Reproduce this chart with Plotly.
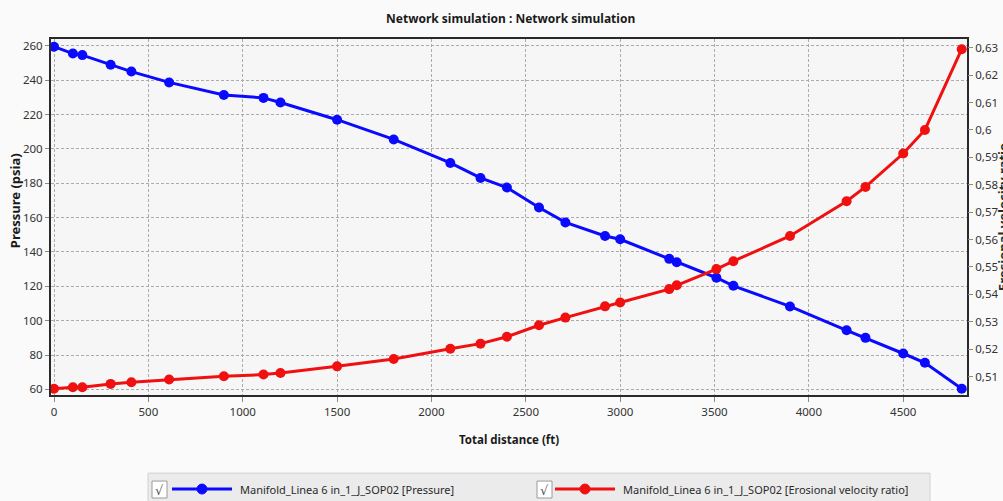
import plotly.graph_objects as go

# Distance along the line (ft)
distance_ft = [0, 100, 150, 300, 410, 610, 900, 1110, 1200, 1500, 1800, 2100, 2260, 2400,
               2570, 2710, 2920, 3000, 3260, 3300, 3510, 3600, 3900, 4200, 4300, 4500, 4615, 4810]
# Pressure profile (psia)
pressure_psia = [259.5, 255.5, 254.6, 249.0, 245.0, 238.7, 231.4, 229.7, 227.0, 217.0, 205.5,
                 191.8, 183.1, 177.5, 165.9, 157.2, 149.3, 147.4, 136.0, 134.0, 125.0, 120.3,
                 108.3, 94.4, 90.0, 80.9, 75.5, 60.4]
# Erosional velocity ratio (-)
erosional_ratio = [0.5055, 0.5061, 0.5061, 0.5073, 0.5079, 0.5089, 0.5101, 0.5107, 0.5113,
                   0.5137, 0.5164, 0.5201, 0.5220, 0.5245, 0.5287, 0.5315, 0.5356, 0.5370,
                   0.5419, 0.5433, 0.5492, 0.5521, 0.5613, 0.5740, 0.5792, 0.5914, 0.6000,
                   0.6295]

x_ticks = [0, 500, 1000, 1500, 2000, 2500, 3000, 3500, 4000, 4500]
left_ticks = [60, 80, 100, 120, 140, 160, 180, 200, 220, 240, 260]
right_ticks = [0.51, 0.52, 0.53, 0.54, 0.55, 0.56, 0.57, 0.58, 0.59, 0.60, 0.61, 0.62, 0.63]
right_tick_text = ["0,51", "0,52", "0,53", "0,54", "0,55", "0,56", "0,57", "0,58", "0,59",
                   "0,6", "0,61", "0,62", "0,63"]

series_names = ["Manifold_Linea 6 in_1_J_SOP02 [Pressure]",
                "Manifold_Linea 6 in_1_J_SOP02 [Erosional velocity ratio]"]
series_colors = ["#0a0aff", "#f01010"]

W, H = 1003, 501
L, R, T, B = 51, 967, 38, 396
FONT = "Noto Sans"


# the paper spans the whole page, so pixel positions map straight onto it
def px(x):
    return x / W


def py(y):
    return 1 - y / H


fig = go.Figure()
fig.add_trace(go.Scatter(
    x=distance_ft, y=pressure_psia, name=series_names[0], mode="lines+markers",
    line=dict(color=series_colors[0], width=3),
    marker=dict(color=series_colors[0], size=10), yaxis="y", showlegend=False))
fig.add_trace(go.Scatter(
    x=distance_ft, y=erosional_ratio, name=series_names[1], mode="lines+markers",
    line=dict(color=series_colors[1], width=3),
    marker=dict(color=series_colors[1], size=10), yaxis="y2", showlegend=False))

grid = dict(showgrid=True, gridcolor="#ababab", griddash="3px,2px", gridwidth=1)
tickfont = dict(family=FONT, size=11.5, color="#333333")

fig.update_layout(
    width=W, height=H,
    margin=dict(l=0, r=0, t=0, b=0, pad=0),
    paper_bgcolor="#fafafa", plot_bgcolor="#f6f6f6",
    xaxis=dict(domain=[px(L), px(R)], range=[-16, 4838], tickvals=x_ticks, ticks="outside",
               ticklen=5, tickcolor="#8a8a8a", tickfont=tickfont, zeroline=False,
               showline=True, linecolor="#2a2a2a", linewidth=2, mirror=True, **grid),
    yaxis=dict(domain=[py(B), py(T)], range=[56.5, 264.06], tickvals=left_ticks,
               ticks="outside", ticklen=4, tickcolor="#8a8a8a", tickfont=tickfont,
               zeroline=False, showline=True, linecolor="#2a2a2a", linewidth=2, mirror=True,
               **grid),
    yaxis2=dict(range=[0.50309, 0.63327], overlaying="y", side="right",
                tickvals=right_ticks, ticktext=right_tick_text, ticks="outside", ticklen=5,
                tickcolor="#8a8a8a", tickfont=tickfont, showgrid=False, zeroline=False),
)

annotations = [
    dict(text="<b>Network simulation : Network simulation</b>", x=px(510), y=py(18),
         font=dict(family=FONT, size=12, color="#1a1a1a")),
    dict(text="<b>Total distance (ft)</b>", x=px(509), y=py(440),
         font=dict(family=FONT, size=11.5, color="#1a1a1a")),
    dict(text="<b>Pressure (psia)</b>", x=px(15), y=py(201), textangle=-90,
         font=dict(family=FONT, size=13, color="#1a1a1a")),
    # right-hand axis title, running off the page edge
    dict(text="<b>Erosional velocity ratio</b>", x=px(1003), y=py(217), textangle=-90,
         font=dict(family=FONT, size=13, color="#2a2a20")),
]
for a in annotations:
    a.update(xref="paper", yref="paper", showarrow=False, xanchor="center", yanchor="middle")

shapes = [
    # legend panel
    dict(type="rect", x0=px(148), x1=px(930), y0=py(474), y1=py(503),
         fillcolor="#ebebeb", line=dict(color="#d2d2d2", width=1), layer="above"),
]

# legend entries: checkbox, line sample with marker, label
legend_items = [
    dict(box=152, line0=172, line1=232, text_x=238),
    dict(box=537, line0=555, line1=615, text_x=621),
]
for item, name, color in zip(legend_items, series_names, series_colors):
    yc = 490
    shapes.append(dict(type="rect", x0=px(item["box"]), x1=px(item["box"] + 15),
                       y0=py(482), y1=py(499), fillcolor="#ffffff",
                       line=dict(color="#9a9a9a", width=1), layer="above"))
    shapes.append(dict(type="line", x0=px(item["line0"]), x1=px(item["line1"]),
                       y0=py(yc), y1=py(yc), line=dict(color=color, width=3), layer="above"))
    mid = (item["line0"] + item["line1"]) / 2
    shapes.append(dict(type="circle", x0=px(mid - 5), x1=px(mid + 5), y0=py(yc + 5),
                       y1=py(yc - 5), fillcolor=color, line=dict(color=color, width=1),
                       layer="above"))
    annotations.append(dict(text="√", x=px(item["box"] + 7.5), y=py(yc + 1), xref="paper",
                            yref="paper", showarrow=False, xanchor="center", yanchor="middle",
                            font=dict(family="DejaVu Sans", size=13, color="#555555")))
    annotations.append(dict(text=name, x=px(item["text_x"]), y=py(yc), xref="paper",
                            yref="paper", showarrow=False, xanchor="left", yanchor="middle",
                            font=dict(family=FONT, size=11, color="#2a2a2a")))

for s in shapes:
    s.update(xref="paper", yref="paper")

fig.update_layout(annotations=annotations, shapes=shapes)

fig.write_html("out.html")
